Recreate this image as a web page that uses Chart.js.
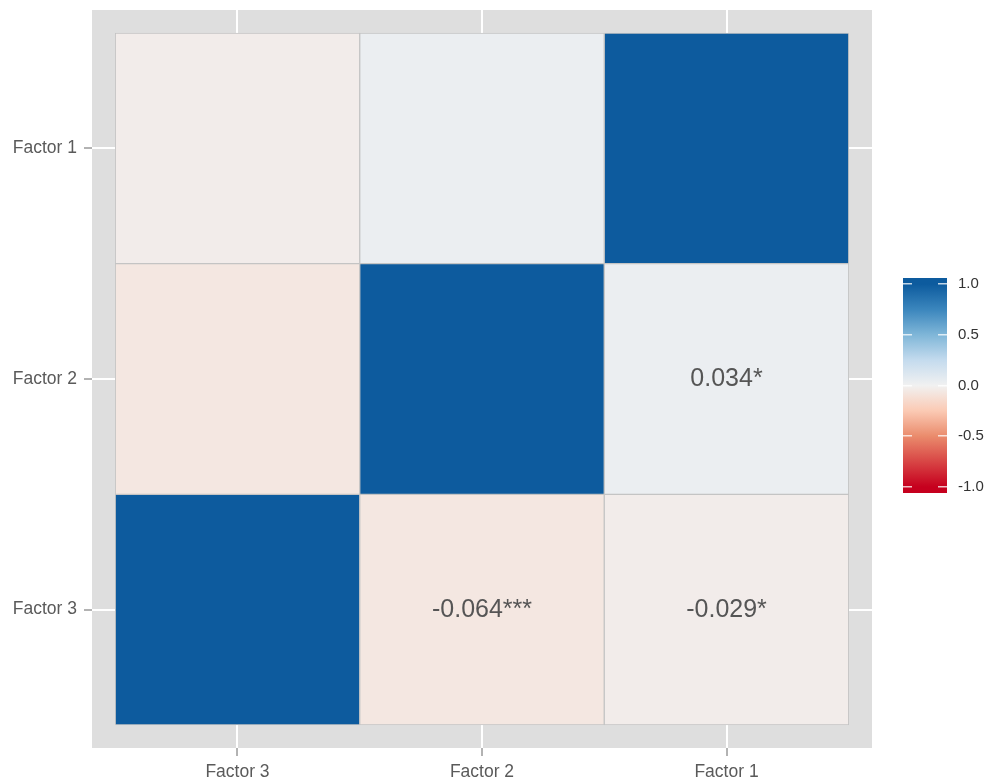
<!DOCTYPE html>
<html lang="en">
<head>
  <meta charset="UTF-8" />
  <title>Factor Correlation Heatmap</title>
  <script src="https://cdn.jsdelivr.net/npm/chart.js"></script>
  <style>
    body {
      margin: 0;
      background: #ffffff;
    }
    .wrap {
      position: relative;
      width: 990px;
      height: 781px;
    }
    #heatmap {
      position: absolute;
      left: 0;
      top: 0;
    }
    #colorbar {
      position: absolute;
      left: 895px;
      top: 268px;
    }
  </style>
</head>
<body>
  <div class="wrap">
    <canvas id="heatmap" width="990" height="781"></canvas>
    <canvas id="colorbar" width="95" height="235"></canvas>
  </div>

  <script>
    // axis categories (x left to right, y bottom to top)
    const xCategories = ["Factor 3", "Factor 2", "Factor 1"];
    const yCategories = ["Factor 3", "Factor 2", "Factor 1"];

    // one entry per cell
    const cellRow = ["Factor 1", "Factor 1", "Factor 1", "Factor 2", "Factor 2", "Factor 2", "Factor 3", "Factor 3", "Factor 3"];
    const cellCol = ["Factor 3", "Factor 2", "Factor 1", "Factor 3", "Factor 2", "Factor 1", "Factor 3", "Factor 2", "Factor 1"];
    const cellValue = [-0.029, 0.034, 1, -0.064, 1, 0.034, 1, -0.064, -0.029];
    const cellText = ["", "", "", "", "", "0.034*", "", "-0.064***", "-0.029*"];

    // colour scale
    const scaleStops = [-1, -0.5, -0.25, 0, 0.25, 0.5, 0.75, 1];
    const scaleColors = ["#c6001e", "#ea8b6c", "#fbcab4", "#f1f1f1", "#c4dbee", "#7fb6d8", "#3b86bd", "#0d5b9e"];
    const legendTicks = [-1, -0.5, 0, 0.5, 1];

    function hexToRgb(h) {
      return [parseInt(h.slice(1, 3), 16), parseInt(h.slice(3, 5), 16), parseInt(h.slice(5, 7), 16)];
    }

    function colorFor(v) {
      for (let i = 1; i < scaleStops.length; i++) {
        if (v <= scaleStops[i]) {
          const t = (v - scaleStops[i - 1]) / (scaleStops[i] - scaleStops[i - 1]);
          const a = hexToRgb(scaleColors[i - 1]);
          const b = hexToRgb(scaleColors[i]);
          const c = a.map((x, k) => Math.round(x + (b[k] - x) * t));
          return `rgb(${c[0]}, ${c[1]}, ${c[2]})`;
        }
      }
      return scaleColors[scaleColors.length - 1];
    }

    const cells = cellValue.map((v, i) => {
      const xi = xCategories.indexOf(cellCol[i]) + 1;
      const yi = yCategories.indexOf(cellRow[i]) + 1;
      return { x: xi, y: [yi - 0.5, yi + 0.5] };
    });

    const panelBg = {
      id: "panelBg",
      beforeDraw(chart) {
        const { ctx, chartArea } = chart;
        ctx.save();
        ctx.fillStyle = "#dedede";
        ctx.fillRect(chartArea.left, chartArea.top, chartArea.right - chartArea.left, chartArea.bottom - chartArea.top);
        ctx.restore();
      }
    };

    const cellLabels = {
      id: "cellLabels",
      afterDatasetsDraw(chart) {
        const { ctx } = chart;
        const meta = chart.getDatasetMeta(0);
        ctx.save();
        ctx.font = "25px 'Liberation Sans', Arial, sans-serif";
        ctx.fillStyle = "#555555";
        ctx.textAlign = "center";
        ctx.textBaseline = "middle";
        meta.data.forEach((el, i) => {
          if (!cellText[i]) return;
          const p = el.getCenterPoint();
          ctx.fillText(cellText[i], p.x, p.y);
        });
        ctx.restore();
      }
    };

    const tickFont = { family: "'Liberation Sans', Arial, sans-serif", size: 17.5 };

    new Chart(document.getElementById("heatmap"), {
      type: "bar",
      data: {
        datasets: [{
          data: cells,
          backgroundColor: cellValue.map(colorFor),
          borderColor: "#c4c4c4",
          borderWidth: 1,
          borderSkipped: false,
          categoryPercentage: 1,
          barPercentage: 1
        }]
      },
      options: {
        responsive: false,
        animation: false,
        layout: { padding: { top: 10, right: 118, left: 0, bottom: 0 } },
        plugins: { legend: { display: false }, tooltip: { enabled: false } },
        scales: {
          x: {
            type: "linear",
            min: 0.405,
            max: 3.595,
            offset: false,
            afterBuildTicks: s => { s.ticks = xCategories.map((c, i) => ({ value: i + 1 })); },
            afterFit: s => { s.height = 33; s.paddingLeft = 0; s.paddingRight = 0; },
            ticks: {
              callback: v => xCategories[v - 1],
              color: "#5a5a5a",
              font: tickFont,
              padding: 6,
              maxRotation: 0,
              autoSkip: false
            },
            grid: { offset: false, color: "#ffffff", lineWidth: 2, tickColor: "#666666", tickLength: 8, tickWidth: 1 },
            border: { display: false }
          },
          y: {
            type: "linear",
            min: 0.4,
            max: 3.6,
            afterBuildTicks: s => { s.ticks = yCategories.map((c, i) => ({ value: i + 1 })); },
            afterFit: s => { s.width = 92; s.paddingTop = 0; s.paddingBottom = 0; },
            ticks: {
              callback: v => yCategories[v - 1],
              color: "#5a5a5a",
              font: tickFont,
              padding: 7,
              autoSkip: false
            },
            grid: { color: "#ffffff", lineWidth: 2, tickColor: "#666666", tickLength: 8, tickWidth: 1 },
            border: { display: false }
          }
        }
      },
      plugins: [panelBg, cellLabels]
    });

    // colour bar legend
    new Chart(document.getElementById("colorbar"), {
      type: "bar",
      data: {
        labels: ["fill"],
        datasets: [{
          data: [[-1.06, 1.06]],
          borderWidth: 0,
          categoryPercentage: 1,
          barPercentage: 1,
          backgroundColor: ctx => {
            const chart = ctx.chart;
            if (!chart.chartArea) return scaleColors[0];
            const y = chart.scales.y;
            const y0 = y.getPixelForValue(-1);
            const y1 = y.getPixelForValue(1);
            const g = chart.ctx.createLinearGradient(0, y0, 0, y1);
            scaleStops.forEach((s, i) => g.addColorStop((s + 1) / 2, scaleColors[i]));
            return g;
          }
        }]
      },
      options: {
        responsive: false,
        animation: false,
        layout: { padding: { top: 10, bottom: 10, left: 8, right: 0 } },
        plugins: { legend: { display: false }, tooltip: { enabled: false } },
        scales: {
          x: { display: false },
          y: {
            position: "right",
            min: -1.06,
            max: 1.06,
            afterBuildTicks: s => { s.ticks = legendTicks.map(v => ({ value: v })); },
            afterFit: s => { s.width = 43; s.paddingTop = 0; s.paddingBottom = 0; },
            ticks: {
              callback: v => v.toFixed(1),
              color: "#333333",
              font: { family: "'Liberation Sans', Arial, sans-serif", size: 15 },
              padding: 11
            },
            grid: { color: "rgba(255,255,255,0.75)", lineWidth: 1.5, drawTicks: false, z: 1 },
            border: { display: false, dash: [9, 26, 9] }
          }
        }
      }
    });
  </script>
</body>
</html>
